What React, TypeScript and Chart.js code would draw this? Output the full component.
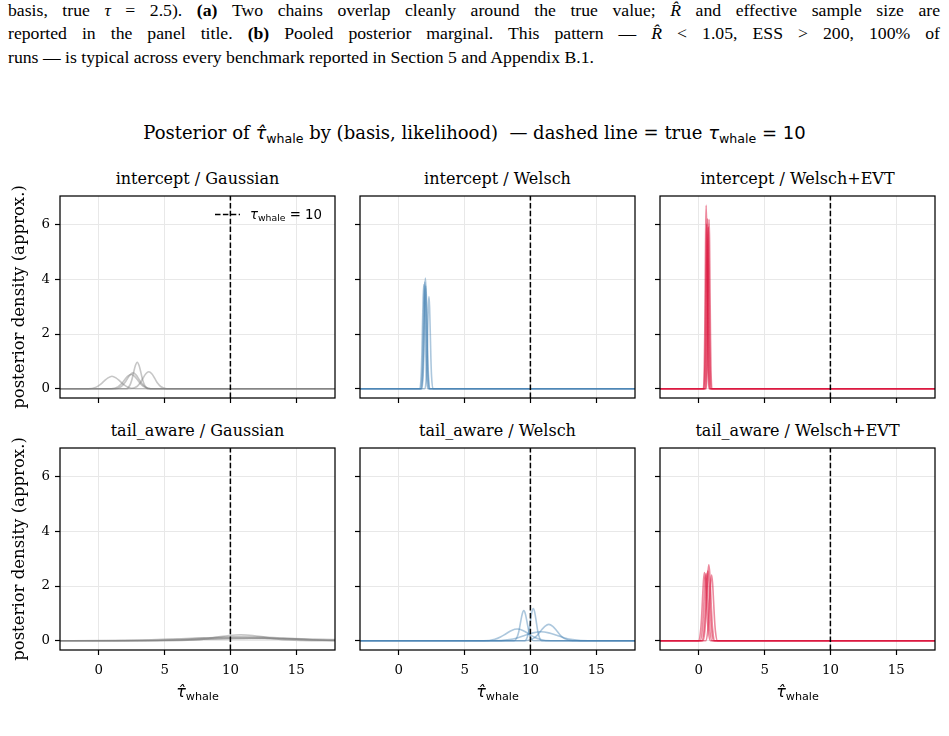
import React, { useEffect, useRef } from "react";
import { Chart, registerables } from "chart.js";

Chart.register(...registerables);

// ---------- axes ----------
const X_MIN = -2.95;
const X_MAX = 17.95;
const Y_MIN = -0.335;
const Y_MAX = 7.035;
const X_TICKS = [0, 5, 10, 15];
const Y_TICKS = [0, 2, 4, 6];
const TRUE_TAU = 10;

type Pt = [number, number];

// ---------- intercept / Gaussian ----------
const igRun1: Pt[] = [[-3, 0], [-0.8, 0], [-0.2, 0.062], [0.1, 0.15], [0.4, 0.28], [0.7, 0.4], [1.0, 0.46], [1.3, 0.4], [1.6, 0.28], [1.9, 0.15], [2.2, 0.062], [2.8, 0], [18, 0]];
const igRun2: Pt[] = [[-3, 0], [1.25, 0], [1.7, 0.078], [1.925, 0.19], [2.15, 0.35], [2.375, 0.51], [2.6, 0.58], [2.825, 0.51], [3.05, 0.35], [3.275, 0.19], [3.5, 0.078], [3.95, 0], [18, 0]];
const igRun3: Pt[] = [[-3, 0], [0.95, 0], [1.45, 0.07], [1.7, 0.17], [1.95, 0.32], [2.2, 0.46], [2.45, 0.52], [2.7, 0.46], [2.95, 0.32], [3.2, 0.17], [3.45, 0.07], [3.95, 0], [18, 0]];
const igRun4: Pt[] = [[-3, 0], [2.08, 0], [2.36, 0.13], [2.5, 0.31], [2.64, 0.59], [2.78, 0.85], [2.92, 0.97], [3.06, 0.85], [3.2, 0.59], [3.34, 0.31], [3.48, 0.13], [3.76, 0], [18, 0]];
const igRun5: Pt[] = [[-3, 0], [2.45, 0], [2.9, 0.084], [3.125, 0.2], [3.35, 0.38], [3.575, 0.55], [3.8, 0.62], [4.025, 0.55], [4.25, 0.38], [4.475, 0.2], [4.7, 0.084], [5.15, 0], [18, 0]];

// ---------- intercept / Welsch ----------
const iwRun1: Pt[] = [[-3, 0], [1.72, 0], [1.82, 0.55], [1.87, 1.29], [1.92, 2.46], [1.97, 3.56], [2.02, 4.04], [2.07, 3.56], [2.12, 2.46], [2.17, 1.29], [2.22, 0.55], [2.32, 0], [18, 0]];
const iwRun2: Pt[] = [[-3, 0], [1.6, 0], [1.7, 0.51], [1.75, 1.22], [1.8, 2.32], [1.85, 3.34], [1.9, 3.8], [1.95, 3.34], [2.0, 2.32], [2.05, 1.22], [2.1, 0.51], [2.2, 0], [18, 0]];
const iwRun3: Pt[] = [[-3, 0], [1.67, 0], [1.77, 0.53], [1.82, 1.25], [1.87, 2.38], [1.92, 3.43], [1.97, 3.9], [2.02, 3.43], [2.07, 2.38], [2.12, 1.25], [2.17, 0.53], [2.27, 0], [18, 0]];
const iwRun4: Pt[] = [[-3, 0], [1.99, 0], [2.09, 0.45], [2.14, 1.08], [2.19, 2.06], [2.24, 2.97], [2.29, 3.37], [2.34, 2.97], [2.39, 2.06], [2.44, 1.08], [2.49, 0.45], [2.59, 0], [18, 0]];
const iwRun5: Pt[] = [[-3, 0], [1.75, 0], [1.85, 0.51], [1.9, 1.2], [1.95, 2.29], [2.0, 3.3], [2.05, 3.75], [2.1, 3.3], [2.15, 2.29], [2.2, 1.2], [2.25, 0.51], [2.35, 0], [18, 0]];

// ---------- intercept / Welsch+EVT ----------
const ieRun1: Pt[] = [[-3, 0], [0.35, 0], [0.42, 0.9], [0.455, 2.14], [0.49, 4.09], [0.525, 5.9], [0.56, 6.7], [0.595, 5.9], [0.63, 4.09], [0.665, 2.14], [0.7, 0.9], [0.77, 0], [18, 0]];
const ieRun2: Pt[] = [[-3, 0], [0.45, 0], [0.52, 0.84], [0.555, 1.98], [0.59, 3.78], [0.625, 5.46], [0.66, 6.2], [0.695, 5.46], [0.73, 3.78], [0.765, 1.98], [0.8, 0.84], [0.87, 0], [18, 0]];
const ieRun3: Pt[] = [[-3, 0], [0.57, 0], [0.64, 0.83], [0.675, 1.98], [0.71, 3.77], [0.745, 5.44], [0.78, 6.18], [0.815, 5.44], [0.85, 3.77], [0.885, 1.98], [0.92, 0.83], [0.99, 0], [18, 0]];
const ieRun4: Pt[] = [[-3, 0], [0.39, 0], [0.46, 0.81], [0.495, 1.92], [0.53, 3.66], [0.565, 5.28], [0.6, 6.0], [0.635, 5.28], [0.67, 3.66], [0.705, 1.92], [0.74, 0.81], [0.81, 0], [18, 0]];
const ieRun5: Pt[] = [[-3, 0], [0.51, 0], [0.58, 0.8], [0.615, 1.89], [0.65, 3.6], [0.685, 5.19], [0.72, 5.9], [0.755, 5.19], [0.79, 3.6], [0.825, 1.89], [0.86, 0.8], [0.93, 0], [18, 0]];

// ---------- tail_aware / Gaussian ----------
const tgRun1: Pt[] = [[-3, 0], [5.4, 0.002], [7.2, 0.03], [8.1, 0.07], [9.0, 0.134], [9.9, 0.194], [10.8, 0.22], [11.7, 0.194], [12.6, 0.134], [13.5, 0.07], [14.4, 0.03], [16.2, 0.002], [18, 0]];
const tgRun2: Pt[] = [[-3, 0], [2, 0.002], [5, 0.02], [6.5, 0.052], [8, 0.098], [9.5, 0.141], [11, 0.16], [12.5, 0.141], [14, 0.098], [15.5, 0.052], [17, 0.021], [18, 0.011]];
const tgRun3: Pt[] = [[-3, 0.001], [-2, 0.0013], [2, 0.016], [4, 0.039], [6, 0.073], [8, 0.106], [10, 0.12], [12, 0.106], [14, 0.073], [16, 0.039], [18, 0.016]];
const tgRun4: Pt[] = [[-3, 0], [1, 0.003], [3.5, 0.012], [5.75, 0.029], [8, 0.055], [10.25, 0.079], [12.5, 0.09], [14.75, 0.079], [17, 0.055], [18, 0.046]];
const tgRun5: Pt[] = [[-3, 0], [1, 0.001], [4.5, 0.014], [6.25, 0.032], [8, 0.061], [9.75, 0.088], [11.5, 0.1], [13.25, 0.088], [15, 0.061], [16.75, 0.032], [18, 0.018]];

// ---------- tail_aware / Welsch ----------
const twRun1: Pt[] = [[-3, 0], [8.75, 0], [9.0, 0.15], [9.125, 0.35], [9.25, 0.67], [9.375, 0.97], [9.5, 1.1], [9.625, 0.97], [9.75, 0.67], [9.875, 0.35], [10.0, 0.15], [10.25, 0], [18, 0]];
const twRun2: Pt[] = [[-3, 0], [9.56, 0], [9.78, 0.16], [9.89, 0.38], [10.0, 0.72], [10.11, 1.04], [10.22, 1.18], [10.33, 1.04], [10.44, 0.72], [10.55, 0.38], [10.66, 0.16], [10.88, 0], [18, 0]];
const twRun3: Pt[] = [[-3, 0], [9.6, 0], [10.2, 0.081], [10.5, 0.19], [10.8, 0.37], [11.1, 0.53], [11.4, 0.6], [11.7, 0.53], [12.0, 0.37], [12.3, 0.19], [12.6, 0.081], [13.2, 0], [18, 0]];
const twRun4: Pt[] = [[-3, 0], [6.45, 0], [7.3, 0.058], [7.725, 0.14], [8.15, 0.26], [8.575, 0.38], [9.0, 0.43], [9.425, 0.38], [9.85, 0.26], [10.275, 0.14], [10.7, 0.058], [11.55, 0], [18, 0]];
const twRun5: Pt[] = [[-3, 0], [7.2, 0], [8.4, 0.045], [9.0, 0.106], [9.6, 0.2], [10.2, 0.29], [10.8, 0.33], [11.4, 0.29], [12.0, 0.2], [12.6, 0.106], [13.2, 0.045], [14.4, 0], [18, 0]];

// ---------- tail_aware / Welsch+EVT ----------
const teRun1: Pt[] = [[-3, 0], [-0.02, 0], [0.13, 0.34], [0.205, 0.8], [0.28, 1.52], [0.355, 2.19], [0.43, 2.49], [0.505, 2.19], [0.58, 1.52], [0.655, 0.8], [0.73, 0.34], [0.88, 0], [18, 0]];
const teRun2: Pt[] = [[-3, 0], [0.1, 0], [0.25, 0.33], [0.325, 0.78], [0.4, 1.49], [0.475, 2.16], [0.55, 2.45], [0.625, 2.16], [0.7, 1.49], [0.775, 0.78], [0.85, 0.33], [1.0, 0], [18, 0]];
const teRun3: Pt[] = [[-3, 0], [0.31, 0], [0.46, 0.37], [0.535, 0.89], [0.61, 1.69], [0.685, 2.44], [0.76, 2.77], [0.835, 2.44], [0.91, 1.69], [0.985, 0.89], [1.06, 0.37], [1.21, 0], [18, 0]];
const teRun4: Pt[] = [[-3, 0], [0.52, 0], [0.67, 0.32], [0.745, 0.77], [0.82, 1.46], [0.895, 2.11], [0.97, 2.4], [1.045, 2.11], [1.12, 1.46], [1.195, 0.77], [1.27, 0.32], [1.42, 0], [18, 0]];
const teRun5: Pt[] = [[-3, 0], [0.23, 0], [0.38, 0.34], [0.455, 0.82], [0.53, 1.56], [0.605, 2.24], [0.68, 2.55], [0.755, 2.24], [0.83, 1.56], [0.905, 0.82], [0.98, 0.34], [1.13, 0], [18, 0]];

const GRAY = "128,128,128";
const BLUE = "70,130,180";
const RED = "220,20,60";

const PANEL_TITLES = [
  "intercept / Gaussian",
  "intercept / Welsch",
  "intercept / Welsch+EVT",
  "tail_aware / Gaussian",
  "tail_aware / Welsch",
  "tail_aware / Welsch+EVT",
];
const PANEL_RUNS: Pt[][][] = [
  [igRun1, igRun2, igRun3, igRun4, igRun5],
  [iwRun1, iwRun2, iwRun3, iwRun4, iwRun5],
  [ieRun1, ieRun2, ieRun3, ieRun4, ieRun5],
  [tgRun1, tgRun2, tgRun3, tgRun4, tgRun5],
  [twRun1, twRun2, twRun3, twRun4, twRun5],
  [teRun1, teRun2, teRun3, teRun4, teRun5],
];
const PANEL_COLORS = [GRAY, BLUE, RED, GRAY, BLUE, RED];

// ---------- layout ----------
const COLS = [60, 360, 660];
const ROWS = [196, 448];
const PW = 275;
const PH = 202;
const YW = 50;
const XH = 34;
const PAD_T = 6;
const PAD_R = 6;
const CW = YW + PW + PAD_R;
const CH = PAD_T + PH + XH;

const SERIF = '"DejaVu Serif", serif';
const SANS = '"DejaVu Sans", sans-serif';

const framePlugin = {
  id: "frame",
  afterDraw(chart: any) {
    const { ctx, chartArea: a } = chart;
    ctx.save();
    ctx.strokeStyle = "#000";
    ctx.lineWidth = 1.25;
    ctx.strokeRect(a.left, a.top, a.right - a.left, a.bottom - a.top);
    ctx.restore();
  },
};

function Panel({ idx }: { idx: number }) {
  const ref = useRef<HTMLCanvasElement>(null);
  const col = idx % 3;
  const row = Math.floor(idx / 3);
  const showX = row === 1;
  const showY = col === 0;
  useEffect(() => {
    const color = PANEL_COLORS[idx];
    const alpha = color === RED ? 0.5 : 0.45;
    const datasets: any[] = [
      {
        data: [
          { x: TRUE_TAU, y: Y_MIN },
          { x: TRUE_TAU, y: Y_MAX },
        ],
        borderColor: "#000",
        borderWidth: 1.5,
        borderDash: [5.5, 2.4],
        pointRadius: 0,
        fill: false,
      },
    ];
    PANEL_RUNS[idx].forEach((run) => {
      datasets.push({
        data: run.map(([x, y]) => ({ x, y })),
        borderColor: `rgba(${color},${alpha})`,
        borderWidth: 1.6,
        pointRadius: 0,
        cubicInterpolationMode: "monotone",
        fill: false,
      });
    });
    const tickFont = { family: SERIF, size: 13.3 };
    const chart = new Chart(ref.current as HTMLCanvasElement, {
      type: "line",
      data: { datasets },
      options: {
        animation: false,
        responsive: false,
        maintainAspectRatio: false,
        layout: { padding: { top: PAD_T, right: PAD_R, left: 0, bottom: 0 } },
        plugins: { legend: { display: false }, tooltip: { enabled: false }, title: { display: false } },
        scales: {
          x: {
            type: "linear",
            min: X_MIN,
            max: X_MAX,
            afterBuildTicks: (ax: any) => {
              ax.ticks = X_TICKS.map((v) => ({ value: v }));
            },
            afterFit: (ax: any) => {
              ax.height = XH;
              ax.paddingLeft = 0;
              ax.paddingRight = 0;
            },
            ticks: {
              autoSkip: false,
              maxRotation: 0,
              padding: 8,
              color: "#000",
              font: tickFont,
              callback: (v: any) => (showX ? String(v) : ""),
            },
            grid: { color: "#e8e8e8", lineWidth: 1, tickColor: "#000", tickLength: 5, tickWidth: 1.2 },
            border: { display: false },
          },
          y: {
            type: "linear",
            min: Y_MIN,
            max: Y_MAX,
            afterBuildTicks: (ax: any) => {
              ax.ticks = Y_TICKS.map((v) => ({ value: v }));
            },
            afterFit: (ax: any) => {
              ax.width = YW;
              ax.paddingTop = 0;
              ax.paddingBottom = 0;
            },
            ticks: {
              autoSkip: false,
              padding: 5,
              color: "#000",
              font: tickFont,
              callback: (v: any) => (showY ? String(v) : ""),
            },
            grid: { color: "#e8e8e8", lineWidth: 1, tickColor: "#000", tickLength: 5, tickWidth: 1.2 },
            border: { display: false },
          },
        },
      } as any,
      plugins: [framePlugin],
    });
    return () => chart.destroy();
  }, [idx]);
  return (
    <canvas
      ref={ref}
      width={CW}
      height={CH}
      style={{ position: "absolute", left: COLS[col] - YW, top: ROWS[row] - PAD_T, width: CW, height: CH }}
    />
  );
}

function Tau({ hat }: { hat?: boolean }) {
  return (
    <span style={{ fontFamily: SANS, whiteSpace: "nowrap" }}>
      <span style={{ fontStyle: "italic" }}>{hat ? "\u03c4\u0302" : "\u03c4"}</span>
      <span style={{ fontSize: "0.7em", position: "relative", top: "0.28em" }}>whale</span>
    </span>
  );
}

export default function App() {
  return (
    <div style={{ position: "absolute", left: 0, top: 0, width: 949, height: 736, background: "#fff", overflow: "hidden" }}>
      <div
        style={{
          position: "absolute",
          left: 8,
          top: -1,
          width: 932,
          fontFamily: '"Liberation Serif", serif',
          fontSize: 17.7,
          lineHeight: "23.3px",
          color: "#000",
        }}
      >
        <div style={{ textAlign: "justify", textAlignLast: "justify", whiteSpace: "nowrap" }}>
          basis, true <i>τ</i> = 2.5). <b>(a)</b> Two chains overlap cleanly around the true value; <i>R̂</i> and effective sample size are
        </div>
        <div style={{ textAlign: "justify", textAlignLast: "justify", whiteSpace: "nowrap" }}>
          reported in the panel title. <b>(b)</b> Pooled posterior marginal. This pattern — <i>R̂</i> &lt; 1.05, ESS &gt; 200, 100% of
        </div>
        <div style={{ whiteSpace: "nowrap" }}>runs — is typical across every benchmark reported in Section 5 and Appendix B.1.</div>
      </div>

      <div
        style={{
          position: "absolute",
          left: 0,
          top: 122,
          width: 949,
          textAlign: "center",
          fontFamily: SERIF,
          fontSize: 18,
          lineHeight: 1.2,
          whiteSpace: "nowrap",
          color: "#000",
        }}
      >
        Posterior of <Tau hat /> by (basis, likelihood)&nbsp; — dashed line = true <Tau />
        <span style={{ fontFamily: SANS }}> = 10</span>
      </div>

      {PANEL_TITLES.map((t, i) => (
        <div
          key={t}
          style={{
            position: "absolute",
            left: COLS[i % 3],
            width: PW,
            top: ROWS[Math.floor(i / 3)] - 27,
            textAlign: "center",
            fontFamily: SERIF,
            fontSize: 16,
            lineHeight: 1.2,
            whiteSpace: "nowrap",
            color: "#000",
          }}
        >
          {t}
        </div>
      ))}

      {PANEL_TITLES.map((t, i) => (
        <Panel key={"p" + i} idx={i} />
      ))}

      {ROWS.map((r) => (
        <div
          key={"yl" + r}
          style={{
            position: "absolute",
            left: 19,
            top: r + PH / 2,
            transform: "translate(-50%, -50%) rotate(-90deg)",
            fontFamily: SERIF,
            fontSize: 16.5,
            lineHeight: 1.2,
            whiteSpace: "nowrap",
            color: "#000",
          }}
        >
          posterior density (approx.)
        </div>
      ))}

      {COLS.map((c) => (
        <div
          key={"xl" + c}
          style={{
            position: "absolute",
            left: c,
            width: PW,
            top: 682,
            textAlign: "center",
            fontSize: 16,
            lineHeight: 1.2,
            color: "#000",
          }}
        >
          <Tau hat />
        </div>
      ))}

      <svg style={{ position: "absolute", left: 210, top: 205, width: 40, height: 20 }} width={40} height={20}>
        <line x1={5} y1={9.5} x2={30} y2={9.5} stroke="#000" strokeWidth={1.5} strokeDasharray="5.5,2.4" />
      </svg>
      <div
        style={{
          position: "absolute",
          left: 250,
          top: 206.5,
          fontSize: 13.3,
          lineHeight: 1.2,
          whiteSpace: "nowrap",
          color: "#000",
        }}
      >
        <Tau />
        <span style={{ fontFamily: SANS }}> = 10</span>
      </div>
    </div>
  );
}
